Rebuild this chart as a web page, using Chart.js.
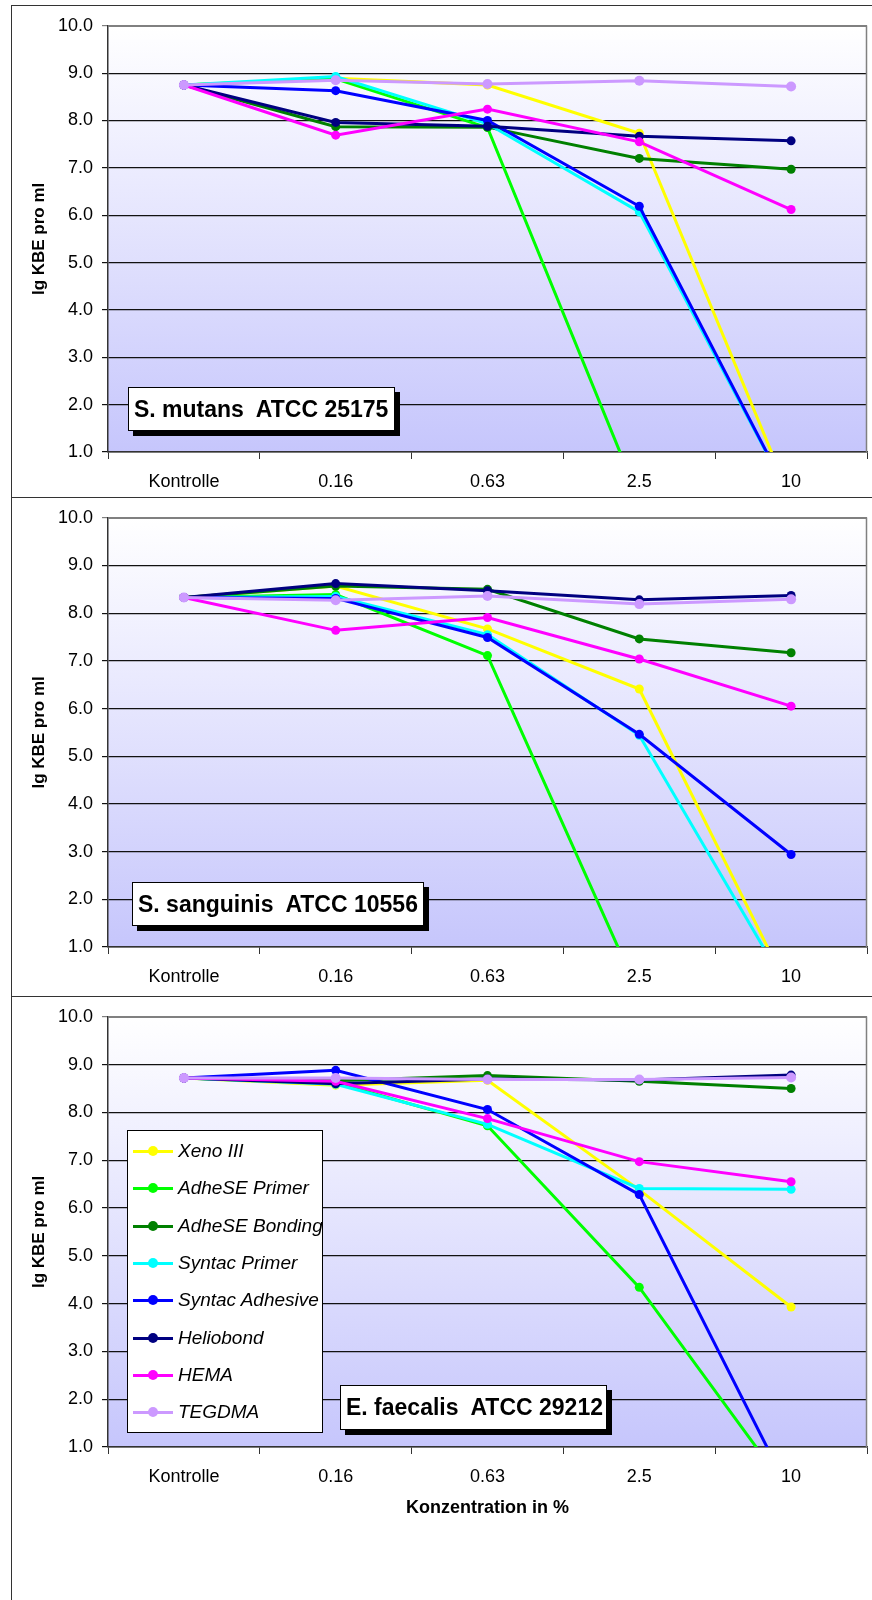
<!DOCTYPE html>
<html>
<head>
<meta charset="utf-8">
<script src="https://cdn.jsdelivr.net/npm/chart.js@4.4.1/dist/chart.umd.min.js"></script>
<style>
  html, body { margin: 0; padding: 0; background: #fff; overflow: hidden; }
  body { width: 872px; height: 1600px; position: relative; font-family: "Liberation Sans", Arial, sans-serif; }
  .panel { position: absolute; left: 11px; width: 870px; border-left: 1.5px solid #333; border-top: 1.5px solid #333; }
  canvas { position: absolute; left: 0; }
  .tag { position: absolute; background: #fff; border: 1px solid #000; box-shadow: 5px 5px 0 #000;
         font: bold 23px "Liberation Sans", Arial, sans-serif; white-space: pre; line-height: 42px; padding-left: 5px; box-sizing: border-box; }
  #legend { position: absolute; left: 127px; top: 1130px; width: 196px; height: 303px; background: #fff; border: 1px solid #000; box-sizing: border-box; }
  .row { position: absolute; left: 5px; height: 24px; font: italic 19px "Liberation Sans", Arial, sans-serif; white-space: nowrap; }
  .row .ln { position: absolute; left: 0; top: 11px; width: 40px; height: 3px; }
  .row .dot { position: absolute; left: 15px; top: 7px; width: 10px; height: 10px; border-radius: 50%; }
  .row span { position: absolute; left: 45px; top: 0; line-height: 24px; }
</style>
</head>
<body>
<div class="panel" style="top:5px;height:1600px"></div>
<div class="panel" style="top:497px;height:0"></div>
<div class="panel" style="top:996px;height:0"></div>

<canvas id="c1" style="top:6px"></canvas>
<canvas id="c2" style="top:498px"></canvas>
<canvas id="c3" style="top:997px"></canvas>

<div class="tag" style="left:128px;top:387px;width:267px;height:44px">S. mutans  ATCC 25175</div>
<div class="tag" style="left:132px;top:882px;width:292px;height:44px">S. sanguinis  ATCC 10556</div>
<div class="tag" style="left:340px;top:1385px;width:267px;height:45px">E. faecalis  ATCC 29212</div>
<div id="legend"></div>

<script>
// concentrations (x axis)
const categories = ["Kontrolle", "0.16", "0.63", "2.5", "10"];
const seriesNames = ["Xeno III", "AdheSE Primer", "AdheSE Bonding", "Syntac Primer",
                     "Syntac Adhesive", "Heliobond", "HEMA", "TEGDMA"];
const seriesColors = ["#ffff00", "#00ff00", "#008000", "#00ffff",
                      "#0000ff", "#000080", "#ff00ff", "#cc99ff"];
const yTicks = [1, 2, 3, 4, 5, 6, 7, 8, 9, 10];

// lg KBE pro ml, S. mutans ATCC 25175
const mutansXeno      = [8.75, 8.89, 8.75, 7.73, 0];
const mutansAdPrimer  = [8.75, 8.88, 7.85, 0, 0];
const mutansAdBonding = [8.75, 7.87, 7.86, 7.20, 6.97];
const mutansSyPrimer  = [8.75, 8.93, 7.93, 6.07, 0];
const mutansSyAdh     = [8.75, 8.63, 8.00, 6.19, 0];
const mutansHelio     = [8.75, 7.96, 7.88, 7.67, 7.57];
const mutansHema      = [8.75, 7.69, 8.24, 7.55, 6.12];
const mutansTegdma    = [8.75, 8.85, 8.77, 8.84, 8.72];

// S. sanguinis ATCC 10556
const sangXeno      = [8.33, 8.57, 7.67, 6.41, 0];
const sangAdPrimer  = [8.33, 8.39, 7.11, 0, 0];
const sangAdBonding = [8.33, 8.57, 8.50, 7.46, 7.17];
const sangSyPrimer  = [8.33, 8.35, 7.55, 5.44, 0];
const sangSyAdh     = [8.33, 8.31, 7.49, 5.46, 2.94];
const sangHelio     = [8.33, 8.62, 8.47, 8.28, 8.37];
const sangHema      = [8.33, 7.64, 7.91, 7.04, 6.05];
const sangTegdma    = [8.33, 8.27, 8.36, 8.19, 8.29];

// E. faecalis ATCC 29212
const faecXeno      = [8.72, 8.57, 8.67, 6.38, 3.93];
const faecAdPrimer  = [8.72, 8.62, 7.72, 4.34, 0];
const faecAdBonding = [8.72, 8.66, 8.77, 8.65, 8.50];
const faecSyPrimer  = [8.72, 8.59, 7.75, 6.41, 6.39];
const faecSyAdh     = [8.72, 8.88, 8.06, 6.28, 0];
const faecHelio     = [8.72, 8.60, 8.70, 8.68, 8.78];
const faecHema      = [8.72, 8.65, 7.87, 6.97, 6.55];
const faecTegdma    = [8.72, 8.72, 8.69, 8.69, 8.73];

const FONT = "'Liberation Sans', Arial, sans-serif";

const plotBackground = {
    id: 'plotBackground',
    beforeDraw(chart) {
        const a = chart.chartArea, ctx = chart.ctx;
        const g = ctx.createLinearGradient(0, a.top, 0, a.bottom);
        g.addColorStop(0, '#ffffff');
        g.addColorStop(1, '#c6c6fc');
        ctx.save();
        ctx.fillStyle = g;
        ctx.fillRect(a.left, a.top, a.right - a.left, a.bottom - a.top);
        ctx.restore();
    },
    afterDraw(chart) {
        const a = chart.chartArea, ctx = chart.ctx;
        ctx.save();
        ctx.strokeStyle = '#808080';
        ctx.lineWidth = 1.5;
        ctx.beginPath();
        ctx.moveTo(a.left, a.top + 0.5);
        ctx.lineTo(a.right - 0.5, a.top + 0.5);
        ctx.lineTo(a.right - 0.5, a.bottom);
        ctx.stroke();
        ctx.restore();
    }
};

function makeChart(id, height, padTop, xHeight, series, withTitle) {
    const el = document.getElementById(id);
    el.width = 872;
    el.height = height;
    el.style.width = '872px';
    el.style.height = height + 'px';
    const datasets = series.map((values, i) => ({
        label: seriesNames[i],
        data: values,
        borderColor: seriesColors[i],
        backgroundColor: seriesColors[i],
        borderWidth: 3,
        pointRadius: i === 7 ? 5 : 4.5,
        pointBorderWidth: 0,
        tension: 0,
        clip: 0,
        order: seriesNames.length - i
    }));
    return new Chart(el, {
        type: 'line',
        data: { labels: categories, datasets: datasets },
        plugins: [plotBackground],
        options: {
            responsive: false,
            animation: false,
            layout: { padding: { top: padTop, right: 3, left: 0, bottom: 0 } },
            plugins: { legend: { display: false }, tooltip: { enabled: false } },
            scales: {
                x: {
                    offset: true,
                    grid: { offset: true, drawOnChartArea: false, tickLength: 7, color: '#333' },
                    border: { color: '#333', width: 1.5 },
                    ticks: { color: '#000', font: { family: FONT, size: 18 }, padding: 12, maxRotation: 0 },
                    title: {
                        display: withTitle,
                        text: 'Konzentration in %',
                        color: '#000',
                        font: { family: FONT, size: 18, weight: 'bold' },
                        padding: { top: 0, bottom: 81 }
                    },
                    afterFit: (s) => { s.height = xHeight; }
                },
                y: {
                    min: yTicks[0],
                    max: yTicks[yTicks.length - 1],
                    afterBuildTicks: (s) => { s.ticks = yTicks.map(v => ({ value: v })); },
                    grid: {
                        color: (c) => c.tick && c.tick.value === 10 ? '#808080' : '#111',
                        lineWidth: 1.2,
                        tickLength: 6
                    },
                    border: { color: '#333', width: 1.5 },
                    ticks: {
                        color: '#000',
                        font: { family: FONT, size: 18 },
                        padding: 9,
                        callback: (v) => Number(v).toFixed(1)
                    },
                    title: {
                        display: true,
                        text: 'lg KBE pro ml',
                        color: '#000',
                        font: { family: FONT, size: 17, weight: 'bold' },
                        padding: { top: 29, bottom: 0 }
                    },
                    afterFit: (s) => { s.width = 108; }
                }
            }
        }
    });
}

makeChart('c1', 492, 16, 46, [mutansXeno, mutansAdPrimer, mutansAdBonding, mutansSyPrimer,
    mutansSyAdh, mutansHelio, mutansHema, mutansTegdma], false);
makeChart('c2', 499, 17, 50, [sangXeno, sangAdPrimer, sangAdBonding, sangSyPrimer,
    sangSyAdh, sangHelio, sangHema, sangTegdma], false);
makeChart('c3', 603, 18, 153, [faecXeno, faecAdPrimer, faecAdBonding, faecSyPrimer,
    faecSyAdh, faecHelio, faecHema, faecTegdma], true);

// legend inside the third chart
const legend = document.getElementById('legend');
seriesNames.forEach((name, i) => {
    const row = document.createElement('div');
    row.className = 'row';
    row.style.top = (8 + i * 37.3) + 'px';
    row.innerHTML = '<div class="ln" style="background:' + seriesColors[i] + '"></div>' +
        '<div class="dot" style="background:' + seriesColors[i] + '"></div><span>' + name + '</span>';
    legend.appendChild(row);
});
</script>
</body>
</html>
